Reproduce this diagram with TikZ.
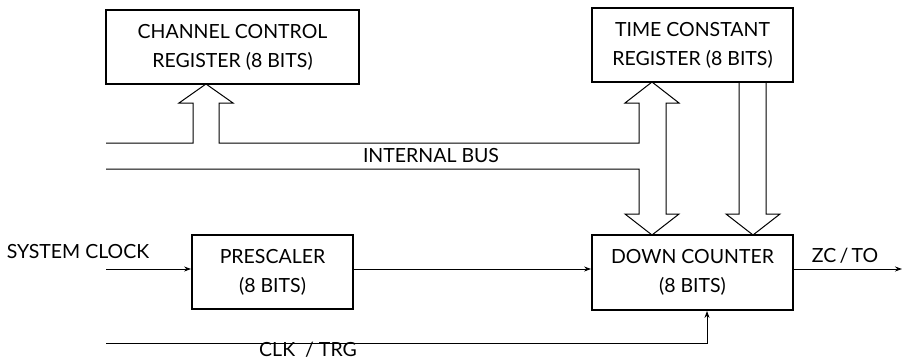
\documentclass[tikz,border=0pt]{standalone}
\usepackage{fontspec}
\setmainfont{Lato}
\usetikzlibrary{arrows.meta}
\begin{document}
\begin{tikzpicture}[x=1pt,y=-1pt,
  blk/.style={draw,line width=1.8pt,inner sep=0pt,align=center,font=\fontsize{19.5}{29}\selectfont},
  lbl/.style={inner sep=0pt,font=\fontsize{19.5}{22}\selectfont},
  wire/.style={line width=1pt},
  fat/.style={line width=1pt,line join=miter},
  arr/.style={wire,-{Stealth[length=7pt,width=5pt]}}]
\useasboundingbox (0,0) rectangle (902,361);
% boxes
\node[blk,minimum width=253pt,minimum height=74pt] (ccr) at (232.5,47) {CHANNEL CONTROL\\REGISTER (8 BITS)};
\node[blk,minimum width=201pt,minimum height=74pt] (tcr) at (692.5,45) {TIME CONSTANT\\REGISTER (8 BITS)};
\node[blk,minimum width=161pt,minimum height=74pt] (pre) at (272.5,272) {PRESCALER\\(8 BITS)};
\node[blk,minimum width=201pt,minimum height=75pt] (dc) at (692.5,272.5) {DOWN COUNTER\\(8 BITS)};
% coordinates
\coordinate (busL1) at (106,143);
\coordinate (busL2) at (106,169);
\coordinate (sysin) at (106,269);
\coordinate (clkin) at (106,343);
\coordinate (clkup) at (707,343);
\coordinate (zcout) at (902,269);
% internal bus with hollow arrows
\draw[fat] (busL1) -- (193,143) -- (193,103) -- (179,103) -- (206,84) -- (233,103) -- (219,103) -- (219,143)
  -- (639,143) -- (639,103) -- (625,103) -- (652,82) -- (679,103) -- (666,103) -- (666,214)
  -- (679,214) -- (652,235) -- (625,214) -- (639,214) -- (639,169) -- (busL2);
% TCR to DC fat arrow
\draw[fat] (739,82) -- (739,214) -- (726,214) -- (753,235) -- (780,214) -- (766,214) -- (766,82);
% signals
\draw[arr] (sysin) -- (pre.west|-sysin);
\draw[arr] (pre.east|-sysin) -- (dc.west|-sysin);
\draw[arr] (dc.east|-zcout) -- (zcout);
\draw[arr] (clkin) -- (clkup) -- (clkup|-dc.south);
% labels
\node[lbl] (sclk) at (78,252) {SYSTEM CLOCK};
\node[lbl] (ibus) at (431,156) {INTERNAL BUS};
\node[lbl] (zcto) at (845,256) {ZC\,/\,TO};
\node[lbl] (ctrg) at (308,350) {CLK\ \ / TRG};
\end{tikzpicture}
\end{document}
